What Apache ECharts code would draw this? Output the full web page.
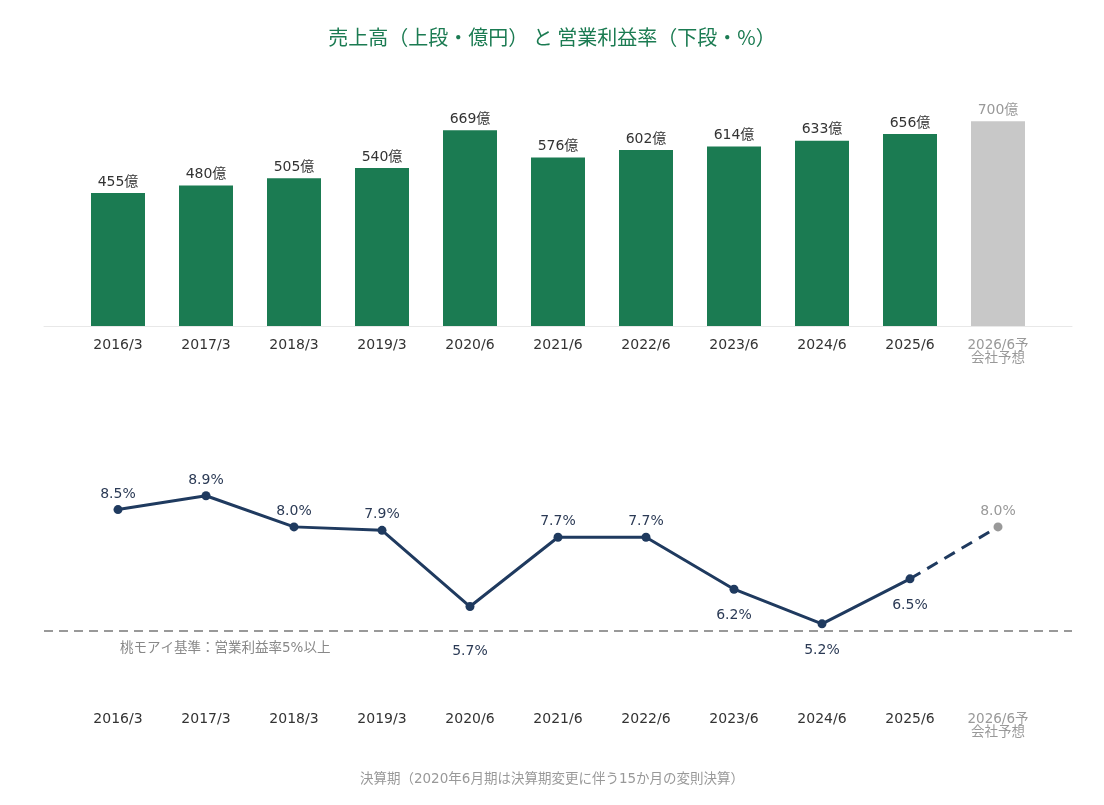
<!DOCTYPE html>
<html>
<head>
<meta charset="utf-8">
<script src="https://cdn.jsdelivr.net/npm/echarts@6/dist/echarts.min.js"></script>
<style>
  html, body { margin: 0; padding: 0; background: #fff; }
  #main { width: 1104px; height: 805px; }
</style>
</head>
<body>
<div id="main"></div>
<script>
// data
var periods = ['2016/3', '2017/3', '2018/3', '2019/3', '2020/6', '2021/6', '2022/6', '2023/6', '2024/6', '2025/6', '2026/6予\n会社予想'];
var sales = [455, 480, 505, 540, 669, 576, 602, 614, 633, 656, 700];
var margin = [8.5, 8.9, 8.0, 7.9, 5.7, 7.7, 7.7, 6.2, 5.2, 6.5, 8.0];
// label below the point? (true = below)
var labelBelow = [false, false, false, false, true, false, false, true, true, true, false];
var forecastIndex = 10;
var baseline = 5;

var green = '#1b7b52', grey = '#c8c8c8', navy = '#1f3a5f';
var font = '"DejaVu Sans", "Noto Sans CJK JP", sans-serif';
var cjk = '"Noto Sans CJK JP", sans-serif';

var chart = echarts.init(document.getElementById('main'));

var barData = sales.map(function (v, i) {
  var isF = i === forecastIndex;
  return {
    value: v,
    itemStyle: { color: isF ? grey : green },
    label: { color: isF ? '#999' : '#333' }
  };
});

var solidData = margin.map(function (v, i) {
  if (i === forecastIndex) return '-';
  return {
    value: v,
    label: {
      position: labelBelow[i] ? 'bottom' : 'top',
      distance: i === 4 ? 33 : (labelBelow[i] ? 15 : 4)
    }
  };
});
var dashData = margin.map(function (v, i) {
  if (i === forecastIndex) {
    return { value: v, itemStyle: { color: '#999' }, label: { show: true, color: '#999', position: 'top', distance: 4 } };
  }
  if (i === forecastIndex - 1) return { value: v, symbolSize: 0 };
  return '-';
});

var catLabel = {
  interval: 0,
  fontFamily: font, fontSize: 14, color: '#333', margin: 13, lineHeight: 13,
  formatter: function (v) { return v.indexOf('予') >= 0 ? '{f|' + v.replace('\n', '}\n{f|') + '}' : v; },
  rich: { f: { color: '#999', fontSize: 13.5, lineHeight: 13, fontFamily: font } }
};

var option = {
  animation: false,
  textStyle: { fontFamily: font },
  title: [{
    text: '売上高（上段・億円） と 営業利益率（下段・%）',
    left: 'center', top: 22,
    textStyle: { color: '#1b7b52', fontSize: 20, fontWeight: 'normal', fontFamily: cjk }
  }, {
    text: '決算期（2020年6月期は決算期変更に伴う15か月の変則決算）',
    left: 'center', top: 768,
    textStyle: { color: '#999', fontSize: 13.5, fontWeight: 'normal', fontFamily: font }
  }],
  grid: [
    { left: 74, right: 62, top: 92, bottom: 479 },
    { left: 74, right: 62, top: 423, bottom: 105 },
    { left: 44, right: 32, top: 92, bottom: 479 },
    { left: 44, right: 32, top: 423, bottom: 105 }
  ],
  xAxis: [
    { type: 'category', gridIndex: 0, data: periods, axisLine: { show: false }, axisTick: { show: false }, axisLabel: catLabel },
    { type: 'category', gridIndex: 1, data: periods, axisLine: { show: false }, axisTick: { show: false }, axisLabel: catLabel },
    { type: 'value', gridIndex: 2, min: 0, max: 1, axisLine: { show: true, lineStyle: { color: '#e8e8e8', width: 1 } }, axisTick: { show: false }, axisLabel: { show: false }, splitLine: { show: false } },
    { type: 'value', gridIndex: 3, min: 0, max: 1, show: false }
  ],
  yAxis: [
    { type: 'value', gridIndex: 0, min: 0, max: 800, show: false },
    { type: 'value', gridIndex: 1, min: 3, max: 11, show: false },
    { type: 'value', gridIndex: 2, min: 0, max: 800, show: false },
    { type: 'value', gridIndex: 3, min: 3, max: 11, show: false }
  ],
  series: [
    {
      name: '売上高', type: 'bar', xAxisIndex: 0, yAxisIndex: 0, barWidth: 54,
      data: barData,
      label: { show: true, position: 'top', distance: 4, fontSize: 14, fontFamily: font, formatter: '{c}億' }
    },
    {
      name: '基準', type: 'line', xAxisIndex: 3, yAxisIndex: 3, data: [], symbol: 'none',
      markLine: {
        silent: true, symbol: 'none',
        lineStyle: { color: '#999', type: [9, 6], width: 2 },
        label: {
          show: true, position: 'insideStartBottom', distance: [76, 11],
          formatter: '桃モアイ基準：営業利益率5%以上', color: '#888', fontSize: 13.5, fontFamily: font
        },
        data: [{ yAxis: baseline }]
      }
    },
    {
      name: '営業利益率', type: 'line', xAxisIndex: 1, yAxisIndex: 1,
      data: solidData, symbol: 'circle', symbolSize: 9,
      lineStyle: { color: navy, width: 3 }, itemStyle: { color: navy },
      label: { show: true, color: '#2b3a55', fontSize: 14, fontFamily: font, formatter: function (p) { return p.value.toFixed(1) + '%'; } }
    },
    {
      name: '予想', type: 'line', xAxisIndex: 1, yAxisIndex: 1,
      data: dashData, symbol: 'circle', symbolSize: 9,
      lineStyle: { color: navy, width: 3, type: [12, 8] }, itemStyle: { color: navy },
      label: { show: false, fontSize: 14, fontFamily: font, formatter: function (p) { return p.value.toFixed(1) + '%'; } }
    }
  ]
};

chart.setOption(option);
</script>
</body>
</html>
